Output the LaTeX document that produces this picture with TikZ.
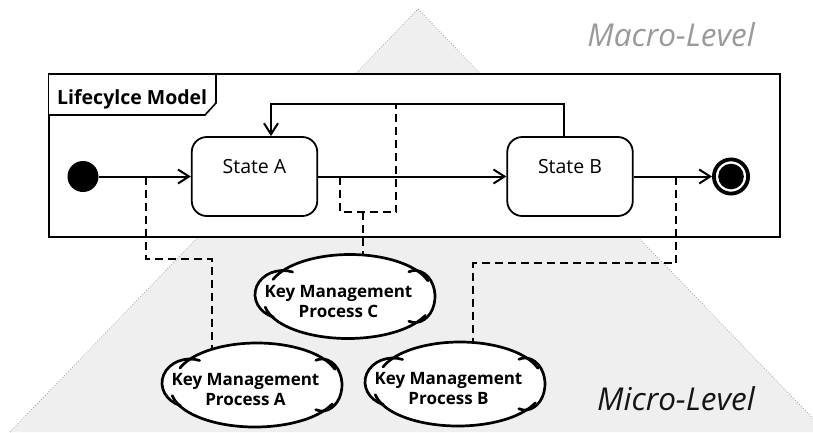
\documentclass[tikz,border=0pt]{standalone}
\usepackage{fontspec}
\setmainfont{Open Sans}
\usetikzlibrary{arrows.meta}
\pgfdeclarelayer{back}
\pgfdeclarelayer{mid}
\pgfsetlayers{back,mid,main}
\definecolor{levelfill}{HTML}{EFEFEF}
\definecolor{macrogray}{HTML}{9A9A9A}
\definecolor{microblack}{HTML}{151515}

\tikzset{
  flow/.style={line width=2pt, -{Straight Barb[length=11pt,width=14pt,line width=2pt]}},
  dep/.style={line width=1.8pt, dash pattern=on 8pt off 5pt},
  statebox/.style={draw, line width=1.8pt, fill=white, rounded corners=15pt,
    minimum width=125.5pt, minimum height=79pt, inner sep=0pt,
    font=\fontsize{19.5}{22}\selectfont},
  cloudline/.style={line width=2.7pt, line cap=round},
  kmtext/.style={align=center, inner sep=0pt, font=\bfseries\fontsize{17}{20}\selectfont},
  leveltext/.style={anchor=base east, inner sep=0pt, font=\itshape\fontsize{31.5}{31.5}\selectfont},
}

% process cloud: four overlapping lobes around a centre coordinate
\newcommand{\kmcloud}[1]{%
  \begin{scope}[shift={(#1)}]
    \fill[white] (5,4) ellipse [x radius=82, y radius=38];
    \fill[white] (-62,2) ellipse [x radius=28, y radius=24];
    \fill[white] (3,-4) ellipse [x radius=84, y radius=38];
    \fill[white] (70,0) ellipse [x radius=20, y radius=26];
    \draw[cloudline] (5,4) ++(160:82 and 38) arc[start angle=160, end angle=18, x radius=82, y radius=38];
    \draw[cloudline] (-62,2) ++(70:28 and 24) arc[start angle=70, end angle=250, x radius=28, y radius=24];
    \draw[cloudline] (3,-4) ++(190:84 and 38) arc[start angle=190, end angle=337, x radius=84, y radius=38];
    \draw[cloudline] (70,0) ++(-108:20 and 26) arc[start angle=-108, end angle=108, x radius=20, y radius=26];
  \end{scope}}

\begin{document}
\begin{tikzpicture}[x=1pt,y=1pt]
\useasboundingbox (0,0) rectangle (813,-432);

\begin{pgfonlayer}{back}
  \fill[white] (0,0) rectangle (813,-432);
  \begin{scope}
    \clip (0,0) rectangle (813,-432);
    \filldraw[fill=levelfill, draw=black!35, dotted, line width=0.8pt]
      (10,-432) -- (418,-9) -- (826,-432);
  \end{scope}
  % lifecycle frame with its name tab
  \node[draw, line width=2pt, fill=white, minimum width=731pt, minimum height=163pt,
        inner sep=0pt] (frame) at (414.5,-155.5) {};
  \draw[line width=1.6pt, fill=white]
    (49,-74) -- (216,-74) -- (216,-103) -- (205,-115) -- (49,-115);
\end{pgfonlayer}

\node[anchor=base west, inner sep=0pt, font=\bfseries\fontsize{19.5}{22}\selectfont]
  (title) at (57,-104) {Lifecylce Model};

\node[leveltext, text=macrogray] (macro) at (755,-46) {Macro-Level};
\node[leveltext, text=microblack] (micro) at (755,-410) {Micro-Level};

% states
\node[circle, fill=black, minimum size=31pt, inner sep=0pt] (init) at (83,-176.5) {};
\node[statebox] (stateA) at (254.5,-176.5) {\raisebox{9.5pt}[\height][\depth]{State A}};
\node[statebox] (stateB) at (570,-176.5) {\raisebox{9.5pt}[\height][\depth]{State B}};
\node[circle, draw, line width=3.8pt, minimum size=34.2pt, inner sep=0pt,
      path picture={\fill (path picture bounding box.center) circle (12.8pt);}]
  (final) at (731,-176.5) {};

% transitions
\draw[flow] (init) -- (stateA);
\draw[flow] (stateA) -- (stateB);
\draw[flow] (stateB) -- (final);
\coordinate (loopR) at (564,-104);
\coordinate (loopL) at (271,-104);
\draw[flow] (stateB.north -| loopR) -- (loopR) -- (loopL) -- (stateA.north -| loopL);

% process attachments
\coordinate (cA) at (252,-385);
\coordinate (cB) at (455,-384);
\coordinate (cC) at (345,-296.5);
\coordinate (tapA) at (146,-176.5);
\coordinate (bendA) at (212,-259);
\coordinate (tapC1) at (340,-176.5);
\coordinate (tapC2) at (396,-104);
\coordinate (bracketR) at (396,-212);
\coordinate (bracketM) at (363,-212);
\coordinate (tapB) at (676,-176.5);
\coordinate (bendB) at (473,-263);

\begin{pgfonlayer}{mid}
  \draw[dep] (tapA) |- (bendA) -- (bendA |- cA);
  \draw[dep] (tapC1) |- (bracketR) -- (tapC2);
  \draw[dep] (bracketM) -- (bracketM |- cC);
  \draw[dep] (tapB) |- (bendB) -- (bendB |- cB);
  \kmcloud{cA}
  \kmcloud{cB}
  \kmcloud{cC}
\end{pgfonlayer}

\node[kmtext] (kmA) at ([shift={(-6.5,-5)}]cA) {Key Management\\Process A};
\node[kmtext] (kmB) at ([shift={(-6.5,-5)}]cB) {Key Management\\Process B};
\node[kmtext] (kmC) at ([shift={(-6.5,-5)}]cC) {Key Management\\Process C};
\end{tikzpicture}
\end{document}
